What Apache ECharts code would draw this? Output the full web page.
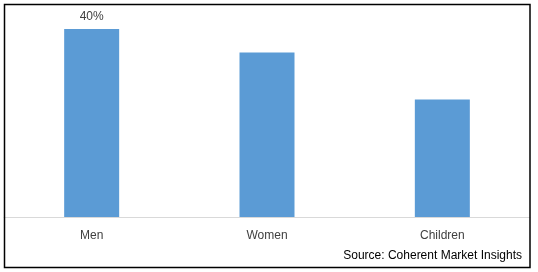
<!DOCTYPE html>
<html>
<head>
<meta charset="utf-8">
<script src="https://cdn.jsdelivr.net/npm/echarts@6/dist/echarts.min.js"></script>
<style>html,body{margin:0;padding:0;background:#fff}#c{width:538px;height:272px}</style>
</head>
<body>
<div id="c"></div>
<script>
var categories = ['Men', 'Women', 'Children'];
var values = [40, 35, 25];
var labelShown = [true, false, false];
var sourceText = 'Source: Coherent Market Insights';

var chart = echarts.init(document.getElementById('c'), null, {renderer: 'canvas'});
var font = 'Liberation Sans, Arial, sans-serif';
chart.setOption({
  animation: false,
  grid: {left: 4, right: 8, top: 29, bottom: 55},
  xAxis: {
    type: 'category',
    data: categories,
    axisLine: {lineStyle: {color: '#d9d9d9', width: 1}},
    axisTick: {show: false},
    axisLabel: {color: '#404040', fontSize: 12, fontFamily: font, margin: 13}
  },
  yAxis: {
    type: 'value', min: 0, max: 40, show: false,
    splitLine: {show: false}
  },
  series: [{
    type: 'bar',
    data: values.map(function (v, i) {
      return {value: v, label: {show: labelShown[i]}};
    }),
    barWidth: 55,
    itemStyle: {color: '#5B9BD5'},
    label: {
      position: 'top', distance: 6, color: '#404040', fontSize: 12, fontFamily: font,
      formatter: function (p) { return p.value + '%'; }
    }
  }],
  graphic: [
    {type: 'rect', shape: {x: 4.5, y: 4.5, width: 525.5, height: 263}, style: {fill: 'none', stroke: '#000', lineWidth: 1.5}, z: 10},
    {type: 'text', right: 16, top: 250, style: {text: sourceText, fill: '#000', font: '12px ' + font}}
  ]
});
</script>
</body>
</html>
